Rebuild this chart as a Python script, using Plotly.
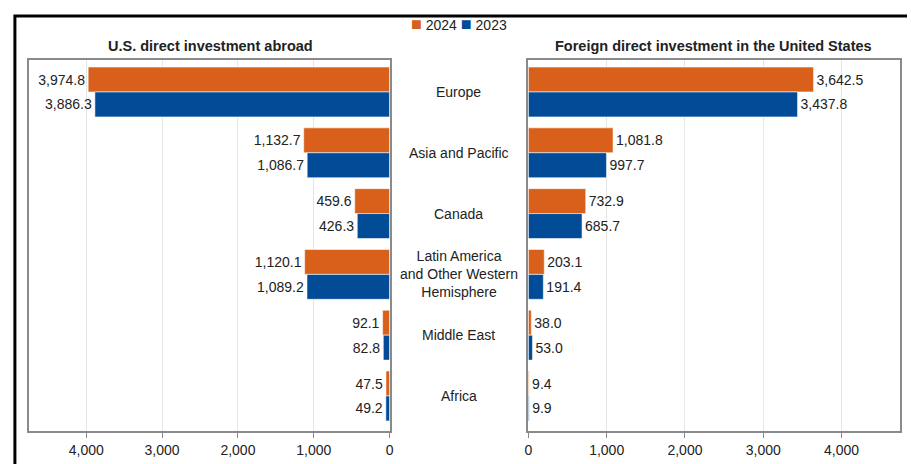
import plotly.graph_objects as go

# Regions, top to bottom
regions = ["Europe", "Asia and Pacific", "Canada",
           "Latin America<br>and Other Western<br>Hemisphere", "Middle East", "Africa"]

# U.S. direct investment abroad (billions of dollars)
abroad_2024 = [3974.8, 1132.7, 459.6, 1120.1, 92.1, 47.5]
abroad_2023 = [3886.3, 1086.7, 426.3, 1089.2, 82.8, 49.2]

# Foreign direct investment in the United States (billions of dollars)
inward_2024 = [3642.5, 1081.8, 732.9, 203.1, 38.0, 9.4]
inward_2023 = [3437.8, 997.7, 685.7, 191.4, 53.0, 9.9]

years = ["2024", "2023"]
tick_vals = [0, 1000, 2000, 3000, 4000]
tick_text = ["0", "1,000", "2,000", "3,000", "4,000"]

ORANGE = "#D9601B"
BLUE = "#024C97"
FONT = "Liberation Sans, Arial, sans-serif"
TXT = "#222222"
FS = 14

W, H = 911, 464


def px_x(p):
    return p / W


def px_y(p):
    return 1 - p / H


def bar(values, name, color, xaxis, yaxis):
    return go.Bar(
        y=list(range(len(regions))), x=values, orientation="h",
        name=name, showlegend=False,
        marker=dict(color=color, line=dict(color="rgba(255,255,255,0.55)", width=1)),
        text=values, texttemplate="%{x:,.1f}", textposition="outside",
        textfont=dict(family=FONT, size=FS, color=TXT),
        cliponaxis=False, xaxis=xaxis, yaxis=yaxis, hoverinfo="skip",
    )


fig = go.Figure()
fig.add_trace(bar(abroad_2024, years[0], ORANGE, "x", "y"))
fig.add_trace(bar(abroad_2023, years[1], BLUE, "x", "y"))
fig.add_trace(bar(inward_2024, years[0], ORANGE, "x2", "y2"))
fig.add_trace(bar(inward_2023, years[1], BLUE, "x2", "y2"))

y_dom = [px_y(431), px_y(60)]
y_rng = [5.576, -0.526]
axis_common = dict(
    showline=True, mirror=True, linecolor="#8a8a8a", linewidth=1.5,
    zeroline=False,
)
x_common = dict(
    axis_common, showgrid=True, gridcolor="#e6e6e6", gridwidth=1,
    tickvals=tick_vals, ticktext=tick_text, ticks="outside", ticklen=5,
    tickcolor="#8a8a8a", tickfont=dict(family=FONT, size=FS, color=TXT),
)
y_common = dict(axis_common, range=y_rng, domain=y_dom, showticklabels=False,
                showgrid=False, ticks="")

fig.update_layout(
    width=W, height=H, margin=dict(l=0, r=0, t=0, b=0),
    paper_bgcolor="white", plot_bgcolor="white",
    font=dict(family=FONT, color=TXT, size=FS),
    barmode="group", bargap=0.18, bargroupgap=0,
    xaxis=dict(x_common, domain=[px_x(25), px_x(389)], range=[4758, 0], anchor="y"),
    xaxis2=dict(x_common, domain=[px_x(529), px_x(904)], range=[0, 4747], anchor="y2"),
    yaxis=dict(y_common, anchor="x"),
    yaxis2=dict(y_common, anchor="x2"),
    showlegend=False,
)

# Compact year key at the top
key = (f"<span style='color:{ORANGE};font-size:18px'>■</span> {years[0]} "
       f"<span style='color:{BLUE};font-size:18px'>■</span> {years[1]}")
fig.add_annotation(text=key, xref="paper", yref="paper", x=px_x(459), y=px_y(24),
                   xanchor="center", yanchor="middle", showarrow=False,
                   font=dict(family=FONT, size=FS, color=TXT))

# Panel titles
fig.add_annotation(text="<b>U.S. direct investment abroad</b>", xref="paper", yref="paper",
                   x=px_x(208), y=px_y(46), xanchor="center", yanchor="middle",
                   showarrow=False, font=dict(family=FONT, size=14.5, color=TXT))
fig.add_annotation(text="<b>Foreign direct investment in the United States</b>",
                   xref="paper", yref="paper", x=px_x(716), y=px_y(46),
                   xanchor="center", yanchor="middle", showarrow=False,
                   font=dict(family=FONT, size=14.5, color=TXT))

# Region labels between the two panels
for i, r in enumerate(regions):
    fig.add_annotation(text=r, xref="paper", yref="y", x=px_x(459), y=i,
                       xanchor="center", yanchor="middle",
                       showarrow=False, align="center",
                       font=dict(family=FONT, size=FS, color=TXT))

# Outer frame: left and top edges, kept inside the paper
fx, fy = px_x(11), px_y(16)
fig.add_shape(type="path", xref="paper", yref="paper",
              path=f"M {fx},0 L {fx},{fy} L 1,{fy}",
              line=dict(color="black", width=3), layer="above")

fig.write_html("out.html")
